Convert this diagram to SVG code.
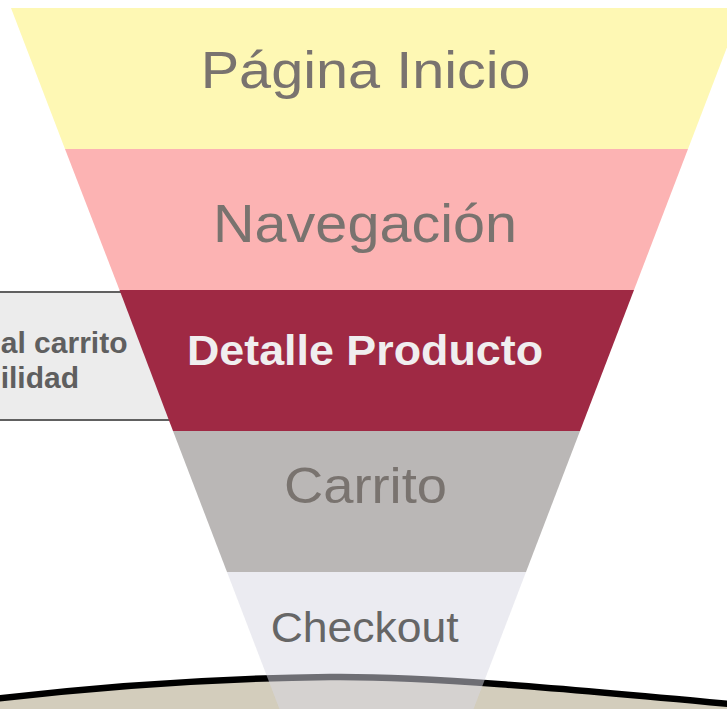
<svg xmlns="http://www.w3.org/2000/svg" width="727" height="709" viewBox="0 0 727 709">
  <style>
    .lbl { font-family: "Liberation Sans", Arial, sans-serif; fill: #79736f; }
    .side { font-family: "Liberation Sans", Arial, sans-serif; font-weight: bold; font-size: 30px; fill: #5f5f5f; }
  </style>
  <rect x="0" y="0" width="727" height="709" fill="#ffffff"/>

  <g id="ground">
    <path d="M -10 699.5 C 120 684 240 678 330 677 S 560 688 740 705 L 740 720 L -10 720 Z" fill="#d3cdbc"/>
    <path d="M -10 699.5 C 120 684 240 678 330 677 S 560 688 740 705" fill="none" stroke="#000000" stroke-width="6.5"/>
  </g>

  <g id="side-note">
    <rect x="-10" y="292" width="260" height="128" fill="#ececec" stroke="#606060" stroke-width="2"/>
    <text class="side" x="127.5" y="353" text-anchor="end">al carrito</text>
    <text class="side" x="79" y="387.5" text-anchor="end">ilidad</text>
  </g>

  <g id="pagina-inicio">
    <polygon points="11,8 742,8 688,149 65,149" fill="#fef8b4"/>
    <text class="lbl" x="200.7" y="88" font-size="52" textLength="330" lengthAdjust="spacingAndGlyphs">Página Inicio</text>
  </g>

  <g id="navegacion">
    <polygon points="65,149 688,149 634,290 119.5,290" fill="#fcb3b3"/>
    <text class="lbl" x="213" y="242" font-size="53" textLength="304" lengthAdjust="spacingAndGlyphs" fill="#7a7573">Navegación</text>
  </g>

  <g id="detalle-producto">
    <polygon points="119.5,290 634,290 580,431 173,431" fill="#9f2944"/>
    <text x="187" y="365" font-family="Liberation Sans, Arial, sans-serif" font-weight="bold" font-size="43" fill="#f0eeef" textLength="356" lengthAdjust="spacingAndGlyphs">Detalle Producto</text>
  </g>

  <g id="carrito">
    <polygon points="173,431 580,431 526,572 227,572" fill="#bab7b6"/>
    <text class="lbl" x="284" y="503" font-size="50" textLength="163" lengthAdjust="spacingAndGlyphs">Carrito</text>
  </g>

  <g id="checkout">
    <polygon points="227,572 526,572 472,713 281,713" fill="#d8d8e3" fill-opacity="0.51"/>
    <text x="270.7" y="642" font-family="Liberation Sans, Arial, sans-serif" font-size="43" fill="#666666" textLength="188" lengthAdjust="spacingAndGlyphs">Checkout</text>
  </g>

  <g id="connectors"></g>
</svg>
